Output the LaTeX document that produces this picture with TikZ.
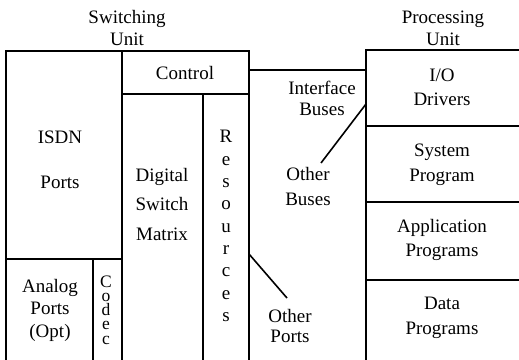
\documentclass[tikz,border=0pt]{standalone}
\usepackage{fontspec}
\setmainfont{Liberation Serif}
\begin{document}
\begin{tikzpicture}[x=1pt,y=-1pt,
  frame/.style={line width=1.6pt,line cap=rect},
  link/.style={line width=1.6pt},
  lbl/.style={inner sep=0pt,align=center,font=\fontsize{19}{#1}\selectfont},
  lbl/.default=22]
\useasboundingbox (0,0) rectangle (519,359);

% Switching unit outline and partitions
\coordinate (swTL) at (6,51);
\coordinate (swTR) at (249,51);
\coordinate (swBL) at (6,359);
\coordinate (swBR) at (249,359);
\draw[frame] (swBL) -- (swTL) -- (swTR) -- (swBR);
\draw[frame] (122,51) -- (122,359);
\draw[frame] (122,94) -- (249,94);
\draw[frame] (203,94) -- (203,359);
\draw[frame] (6,259) -- (122,259);
\draw[frame] (93,259) -- (93,359);

% Processing unit outline and partitions
\coordinate (puTL) at (366,50);
\coordinate (puBL) at (366,359);
\draw[frame] (puBL) -- (puTL) -- (519,50);
\draw[frame] (366,126) -- (519,126);
\draw[frame] (366,202) -- (519,202);
\draw[frame] (366,280) -- (519,280);

% Unit titles
\node[lbl] (swtitle) at (127,28) {Switching\\Unit};
\node[lbl] (putitle) at (443,28) {Processing\\Unit};

% Switching unit blocks
\node[lbl] (control) at (185,73) {Control};
\node[lbl=45] (isdn) at (60,160) {ISDN\\Ports};
\node[lbl=29.5] (dsm) at (162,204) {Digital\\Switch\\Matrix};
\node[lbl=22.3] (res) at (226,226) {R\\e\\s\\o\\u\\r\\c\\e\\s};
\node[lbl=22.5] (analog) at (50,310) {Analog\\Ports\\(Opt)};
\node[inner sep=0pt,align=center,font=\fontsize{17.5}{14.2}\selectfont]
  (codec) at (106,310) {C\\o\\d\\e\\c};

% Processing unit blocks
\node[lbl=24] (io) at (442,87) {I/O\\Drivers};
\node[lbl=25] (sys) at (442,165) {System\\Program};
\node[lbl=24] (app) at (442,240) {Application\\Programs};
\node[lbl=25] (data) at (442,318) {Data\\Programs};

% Buses between the units
\coordinate (ibL) at (249,70);
\coordinate (ibR) at (366,70);
\draw[link] (ibL) -- (ibR);
\node[lbl=21] (ibus) at (322,98) {Interface\\Buses};

\node[lbl=25] (obus) at (308,186) {Other\\Buses};
\coordinate (obA) at (366,104);
\coordinate (obB) at (321,163);
\draw[link] (obA) -- (obB);

\node[lbl=20] (oport) at (290,326) {Other\\Ports};
\coordinate (opA) at (249,254);
\coordinate (opB) at (287,298);
\draw[link] (opA) -- (opB);
\end{tikzpicture}
\end{document}
